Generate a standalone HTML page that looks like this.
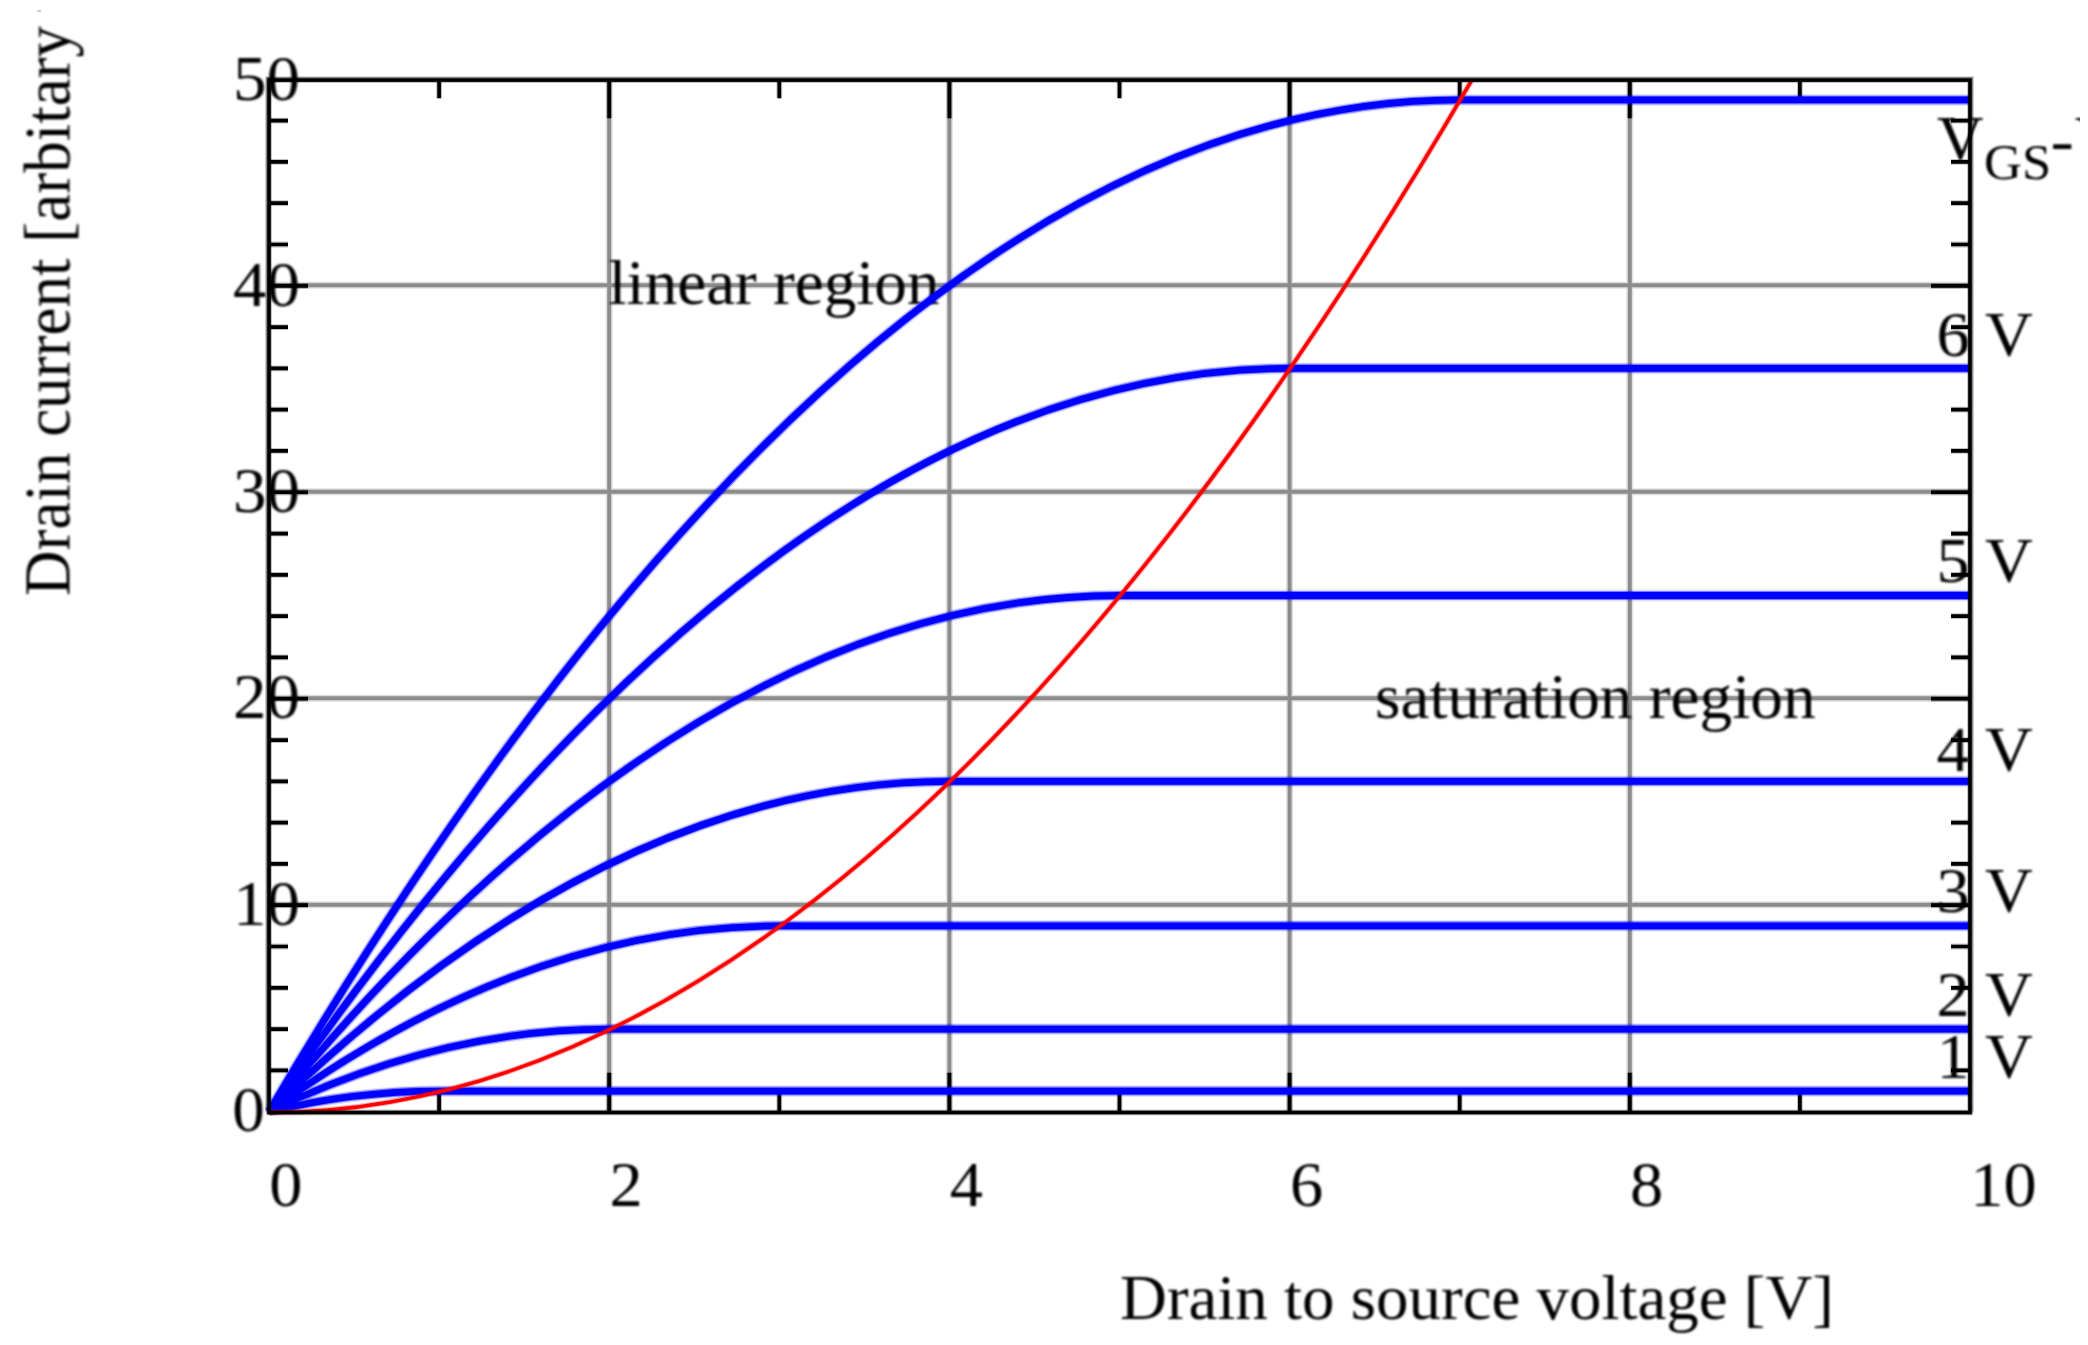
<!DOCTYPE html>
<html lang="en"><head><meta charset="utf-8"><title>MOSFET drain current vs drain to source voltage</title>
<style>
html,body{margin:0;padding:0;background:#fff;}
body{width:2088px;height:1345px;overflow:hidden;position:relative;}
#clip{position:absolute;left:0;top:10px;width:2080px;height:1335px;overflow:hidden;}
svg{position:absolute;left:0;top:-10px;display:block;}
text{font-family:"Liberation Serif","DejaVu Serif",serif;font-size:62.6px;fill:#000;}
use,.k,.kh{fill:none;}
.g{stroke:#8c8c8c;stroke-width:3.9;}.gh{stroke:#8c8c8c;stroke-width:7;stroke-opacity:.28;}
.k{stroke:#000;stroke-width:3.7;}.kh{stroke:#000;stroke-width:5.8;stroke-opacity:.25;}
.b{stroke:#0000ff;stroke-width:6.8;stroke-linejoin:round;}.bh{stroke:#0000ff;stroke-width:9;stroke-opacity:.45;stroke-linejoin:round;}.bg{stroke:#0000ff;stroke-width:11.8;stroke-opacity:.12;stroke-linejoin:round;}
.r{stroke:#ff0000;stroke-width:3.5;}.rh{stroke:#ff0000;stroke-width:5.8;stroke-opacity:.32;}
</style></head><body><div id="clip">
<svg width="2088" height="1345" viewBox="0 0 2088 1345">
<defs>
<filter id="bl" filterUnits="userSpaceOnUse" x="0" y="0" width="2088" height="1345"><feGaussianBlur stdDeviation="0.8"/></filter>
<clipPath id="pa"><rect x="264" y="80.05" width="1706" height="1035.45"/></clipPath>
<path id="grid" d="M609.2 80.05V1112.5M949.4 80.05V1112.5M1289.6 80.05V1112.5M1629.8 80.05V1112.5M269 904.72H1970M269 698.24H1970M269 491.76H1970M269 285.28H1970"/>
<path id="ticks" d="M439.1 1112.5v-19.8M439.1 80.05v18.2M609.2 1112.5v-39.8M609.2 80.05v38.2M779.3 1112.5v-19.8M779.3 80.05v18.2M949.4 1112.5v-39.8M949.4 80.05v38.2M1119.5 1112.5v-19.8M1119.5 80.05v18.2M1289.6 1112.5v-39.8M1289.6 80.05v38.2M1459.7 1112.5v-19.8M1459.7 80.05v18.2M1629.8 1112.5v-39.8M1629.8 80.05v38.2M1799.9 1112.5v-19.8M1799.9 80.05v18.2M269 1070.4h19M1970 1070.4h-19M269 1029.11h19M1970 1029.11h-19M269 987.81h19M1970 987.81h-19M269 946.52h19M1970 946.52h-19M269 905.22h39M1970 905.22h-39M269 863.92h19M1970 863.92h-19M269 822.63h19M1970 822.63h-19M269 781.33h19M1970 781.33h-19M269 740.04h19M1970 740.04h-19M269 698.74h39M1970 698.74h-39M269 657.44h19M1970 657.44h-19M269 616.15h19M1970 616.15h-19M269 574.85h19M1970 574.85h-19M269 533.56h19M1970 533.56h-19M269 492.26h39M1970 492.26h-39M269 450.96h19M1970 450.96h-19M269 409.67h19M1970 409.67h-19M269 368.37h19M1970 368.37h-19M269 327.08h19M1970 327.08h-19M269 285.78h39M1970 285.78h-39M269 244.48h19M1970 244.48h-19M269 203.19h19M1970 203.19h-19M269 161.89h19M1970 161.89h-19M269 120.6h19M1970 120.6h-19"/>
<path id="idvd" d="M269 1111.7Q864.35 99.95 1459.7 99.95H1970M269 1111.7Q779.3 368.37 1289.6 368.37H1970M269 1111.7Q694.25 595.5 1119.5 595.5H1970M269 1111.7Q609.2 781.33 949.4 781.33H1970M269 1111.7Q524.15 925.87 779.3 925.87H1970M269 1111.7Q439.1 1029.11 609.2 1029.11H1970M269 1111.7Q354.05 1091.05 439.1 1091.05H1970"/>
<path id="sat" d="M269 1112.5Q881.36 1112.5 1493.72 42.11"/>
</defs>
<use href="#grid" class="gh"/><use href="#grid" class="g"/>
<path fill="none" stroke="#b0b0b0" stroke-width="1.7" d="M266.2 1112.5V77.25H1972.8V1112.5"/>
<use href="#ticks" class="kh"/><use href="#ticks" class="k"/>
<g filter="url(#bl)">
<text x="608.5" y="304.2" textLength="331" lengthAdjust="spacingAndGlyphs">linear region</text>
<text x="1375" y="718" textLength="440.65" lengthAdjust="spacingAndGlyphs">saturation region</text>
<text x="1936.5" y="356" textLength="96.29" lengthAdjust="spacingAndGlyphs">6 V</text>
<text x="1936.5" y="582" textLength="96.29" lengthAdjust="spacingAndGlyphs">5 V</text>
<text x="1936.5" y="771.3" textLength="96.29" lengthAdjust="spacingAndGlyphs">4 V</text>
<text x="1936.5" y="912.3" textLength="96.29" lengthAdjust="spacingAndGlyphs">3 V</text>
<text x="1936.5" y="1015.8" textLength="96.29" lengthAdjust="spacingAndGlyphs">2 V</text>
<text x="1936.5" y="1078.4" textLength="96.29" lengthAdjust="spacingAndGlyphs">1 V</text>
<text><tspan x="1937" y="160" textLength="46.55" lengthAdjust="spacingAndGlyphs">V</tspan><tspan x="1984" y="179" font-size="51" textLength="67.13" lengthAdjust="spacingAndGlyphs">GS</tspan><tspan x="2050.5" y="162" textLength="23.35" lengthAdjust="spacingAndGlyphs">-</tspan><tspan x="2075" y="160">V</tspan></text>
</g>
<g clip-path="url(#pa)"><use href="#idvd" class="bg"/><use href="#idvd" class="bh"/><use href="#idvd" class="b"/><use href="#sat" class="rh"/><use href="#sat" class="r"/></g>
<rect class="kh" x="269" y="80.05" width="1701" height="1032.45"/>
<rect class="k" x="269" y="80.05" width="1701" height="1032.45"/>
<g filter="url(#bl)">
<text x="232.3" y="1130.9" textLength="32.55" lengthAdjust="spacingAndGlyphs">0</text>
<text x="233" y="924.64" textLength="66.98" lengthAdjust="spacingAndGlyphs">10</text>
<text x="233" y="718.38" textLength="66.98" lengthAdjust="spacingAndGlyphs">20</text>
<text x="233" y="512.12" textLength="66.98" lengthAdjust="spacingAndGlyphs">30</text>
<text x="233" y="305.86" textLength="66.98" lengthAdjust="spacingAndGlyphs">40</text>
<text x="233" y="99.6" textLength="66.98" lengthAdjust="spacingAndGlyphs">50</text>
<text x="269.3" y="1206" textLength="33.18" lengthAdjust="spacingAndGlyphs">0</text>
<text x="609.5" y="1206" textLength="33.18" lengthAdjust="spacingAndGlyphs">2</text>
<text x="949.7" y="1206" textLength="33.18" lengthAdjust="spacingAndGlyphs">4</text>
<text x="1289.9" y="1206" textLength="33.18" lengthAdjust="spacingAndGlyphs">6</text>
<text x="1630.1" y="1206" textLength="33.18" lengthAdjust="spacingAndGlyphs">8</text>
<text x="1970.3" y="1206" textLength="66.36" lengthAdjust="spacingAndGlyphs">10</text>
<text x="1120" y="1319" textLength="714" lengthAdjust="spacingAndGlyphs">Drain to source voltage [V]</text>
<text transform="translate(69.9 596) rotate(-90) scale(1 1.06)" textLength="570.06" lengthAdjust="spacingAndGlyphs">Drain current [arbitary</text>
</g>
<rect x="37.5" y="10" width="3.5" height="2" fill="#c8c8c8"/>
</svg></div></body></html>
